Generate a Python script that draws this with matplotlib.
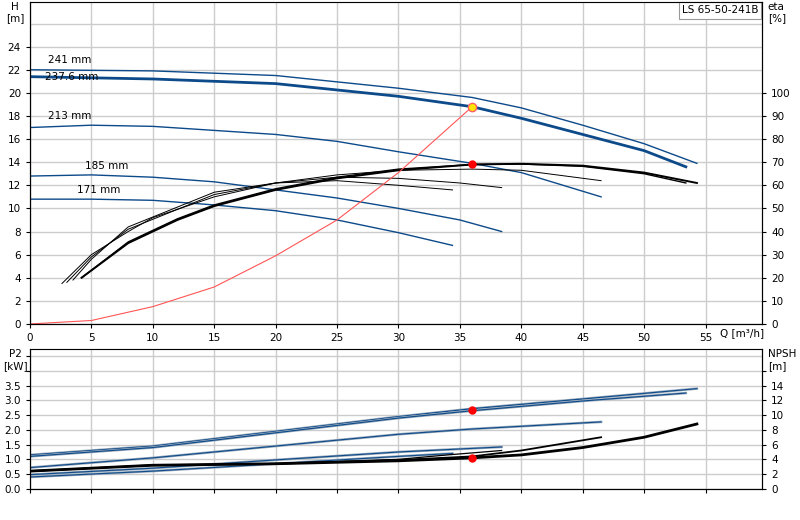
import matplotlib
matplotlib.use('Agg')
import matplotlib.pyplot as plt
import numpy as np

plt.rcParams['font.family'] = 'DejaVu Sans'
plt.rcParams['font.size'] = 7.5

blue = '#0d4a8a'

# head curves per impeller diameter (Q [m3/h], H [m])
diam_labels = ['241 mm', '237.6 mm', '213 mm', '185 mm', '171 mm']
q_241 = [0, 10, 20, 30, 36, 40, 45, 50, 54.3]
h_241 = [22.0, 21.9, 21.5, 20.4, 19.6, 18.7, 17.2, 15.6, 13.9]
q_238 = [0, 10, 20, 30, 36, 40, 45, 50, 53.4]
h_238 = [21.4, 21.2, 20.8, 19.7, 18.8, 17.8, 16.4, 15.0, 13.6]
q_213 = [0, 5, 10, 20, 25, 30, 36, 40, 46.5]
h_213 = [17.0, 17.2, 17.1, 16.4, 15.8, 14.9, 13.9, 13.1, 11.0]
q_185 = [0, 5, 10, 15, 20, 25, 30, 35, 38.4]
h_185 = [12.8, 12.9, 12.7, 12.3, 11.6, 10.9, 10.0, 9.0, 8.0]
q_171 = [0, 5, 10, 15, 20, 25, 30, 34.4]
h_171 = [10.8, 10.8, 10.7, 10.3, 9.8, 9.0, 7.9, 6.8]

# efficiency curves (eta %)
eq_241 = [4.2, 8, 12, 15, 20, 25, 30, 36, 40, 45, 50, 54.3]
eta_241 = [20, 35, 45, 51, 58, 63, 66.5, 69, 69.3, 68.5, 65.5, 61]
eq_238 = [4.2, 8, 12, 15, 20, 25, 30, 36, 40, 45, 50, 53.4]
eta_238 = [20, 35.5, 45.5, 51.5, 58.5, 63.5, 67, 69, 69.2, 68.2, 65, 61]
eq_213 = [2.6, 5, 8, 10, 15, 20, 25, 30, 36, 40, 46.5]
eta_213 = [17.5, 30, 40, 46, 55, 61, 64.5, 66.5, 67, 66.5, 62]
eq_185 = [3.0, 5, 8, 15, 20, 25, 30, 35, 38.4]
eta_185 = [18, 29, 41, 56, 61, 63.5, 63, 61, 59]
eq_171 = [3.5, 5, 8, 15, 20, 25, 30, 34.4]
eta_171 = [19, 28, 42, 57, 61, 62, 60, 58]

# system curve
sys_q = [0, 5, 10, 15, 20, 25, 30, 36]
sys_h = [0, 0.3, 1.5, 3.2, 5.9, 9.0, 13.1, 18.8]

# power curves P2 [kW]
pq_241 = [0, 10, 20, 30, 36, 45, 54.3]
p_241 = [1.15, 1.45, 1.95, 2.45, 2.72, 3.05, 3.4]
pq_238 = [0, 10, 20, 30, 36, 45, 53.4]
p_238 = [1.1, 1.4, 1.9, 2.4, 2.65, 2.98, 3.25]
pq_213 = [0, 10, 20, 30, 36, 46.5]
p_213 = [0.72, 1.05, 1.45, 1.85, 2.03, 2.27]
pq_185 = [0, 10, 20, 30, 38.4]
p_185 = [0.48, 0.7, 0.98, 1.25, 1.42]
pq_171 = [0, 10, 20, 30, 34.4]
p_171 = [0.4, 0.6, 0.85, 1.1, 1.2]

# NPSH curves [m]
nq_1 = [0, 10, 20, 30, 36, 40, 45, 50, 54.3]
npsh_1 = [2.4, 3.2, 3.4, 3.8, 4.2, 4.6, 5.6, 7.0, 8.8]
nq_2 = [0, 10, 20, 30, 36, 40, 46.5]
npsh_2 = [2.4, 3.2, 3.4, 3.9, 4.4, 5.2, 7.0]
nq_3 = [0, 10, 20, 30, 34, 38.4]
npsh_3 = [2.4, 3.2, 3.4, 4.0, 4.6, 5.2]

duty_q = 36.0
duty_h = 18.8
duty_eta = 69
duty_p2 = 2.68
duty_npsh = 4.2

fig = plt.figure(figsize=(8, 5.2), dpi=100)
ax = fig.add_axes([0.0375, 0.377, 0.915, 0.62])
ax2 = fig.add_axes([0.0375, 0.06, 0.915, 0.268])

for a in (ax, ax2):
    a.set_xlim(0, 59.6)
    a.set_xticks(np.arange(0, 56, 5))
    a.grid(True, color='#cccccc', lw=1)
    a.set_axisbelow(True)
    a.spines['top'].set_color('#bbbbbb')
    a.tick_params(length=3)

ax.set_ylim(0, 27.9)
ax.set_yticks(np.arange(0, 25, 2))
ax.set_yticks([26], minor=True)
ax.grid(True, which='minor', color='#cccccc', lw=1)
ax.tick_params(which='minor', length=0)

for q, h, w in [(q_241, h_241, 1.0), (q_238, h_238, 2.0), (q_213, h_213, 1.0),
                (q_185, h_185, 1.0), (q_171, h_171, 1.0)]:
    ax.plot(q, h, color=blue, lw=w)

for q, e, w in [(eq_241, eta_241, 1.4), (eq_238, eta_238, 1.0), (eq_213, eta_213, 0.7),
                (eq_185, eta_185, 0.7), (eq_171, eta_171, 0.7)]:
    ax.plot(q, np.array(e) / 5.0, color='black', lw=w)

ax.plot(sys_q, sys_h, color='#ff5555', lw=0.8)
ax.plot(duty_q, duty_h, 'o', color='#ffe600', mec='#ff6060', ms=6)
ax.plot(duty_q, duty_eta / 5.0, 'o', color='red', ms=5)

label_pos = [(1.5, 22.4), (1.2, 20.9), (1.5, 17.6), (4.5, 13.2), (3.8, 11.2)]
for t, (x, y) in zip(diam_labels, label_pos):
    ax.text(x, y, t, fontsize=7.5, va='bottom')

ax.text(56.2, -0.75, 'Q [m³/h]', fontsize=7.5, va='center')
ax.text(-0.02, 1.0, 'H\n[m]', transform=ax.transAxes, ha='center', va='top',
        fontsize=7.5, multialignment='center')

axr = ax.twinx()
axr.set_ylim(0, 27.9 * 5)
axr.set_yticks(np.arange(0, 101, 10))
axr.tick_params(length=3)
axr.text(1.008, 1.0, 'eta\n[%]', transform=ax.transAxes, ha='left', va='top', fontsize=7.5)
ax.text(0.995, 0.988, 'LS 65-50-241B', transform=ax.transAxes, ha='right', va='top', fontsize=7.5,
        bbox=dict(boxstyle='square,pad=0.3', fc='white', ec='#999999', lw=0.8))

ax2.set_ylim(0, 4.73)
ax2.set_yticks(np.arange(0, 4.6, 0.5))
ax2.set_yticklabels(['%.1f' % v for v in np.arange(0, 3.6, 0.5)] + ['', ''])
ax2.set_xticklabels([])
for q, p in [(pq_241, p_241), (pq_238, p_238), (pq_213, p_213), (pq_185, p_185), (pq_171, p_171)]:
    ax2.plot(q, p, color='#99aabb', lw=1.8)
    ax2.plot(q, p, color=blue, lw=0.8)
for q, n, w in [(nq_1, npsh_1, 2.0), (nq_2, npsh_2, 1.3), (nq_3, npsh_3, 0.9)]:
    ax2.plot(q, np.array(n) / 4.0, color='black', lw=w)
ax2.plot(duty_q, duty_p2, 'o', color='red', ms=5)
ax2.plot(duty_q, duty_npsh / 4.0, 'o', color='red', ms=5)
ax2.text(-0.02, 1.0, 'P2\n[kW]', transform=ax2.transAxes, ha='center', va='top',
         fontsize=7.5, multialignment='center')

ax2r = ax2.twinx()
ax2r.set_ylim(0, 4.73 * 4)
ax2r.set_yticks(np.arange(0, 17, 2))
ax2r.set_yticklabels([str(v) for v in range(0, 15, 2)] + [''])
ax2r.tick_params(length=3)
ax2r.text(1.008, 1.0, 'NPSH\n[m]', transform=ax2.transAxes, ha='left', va='top', fontsize=7.5)

fig.savefig('out.png', dpi=100)
